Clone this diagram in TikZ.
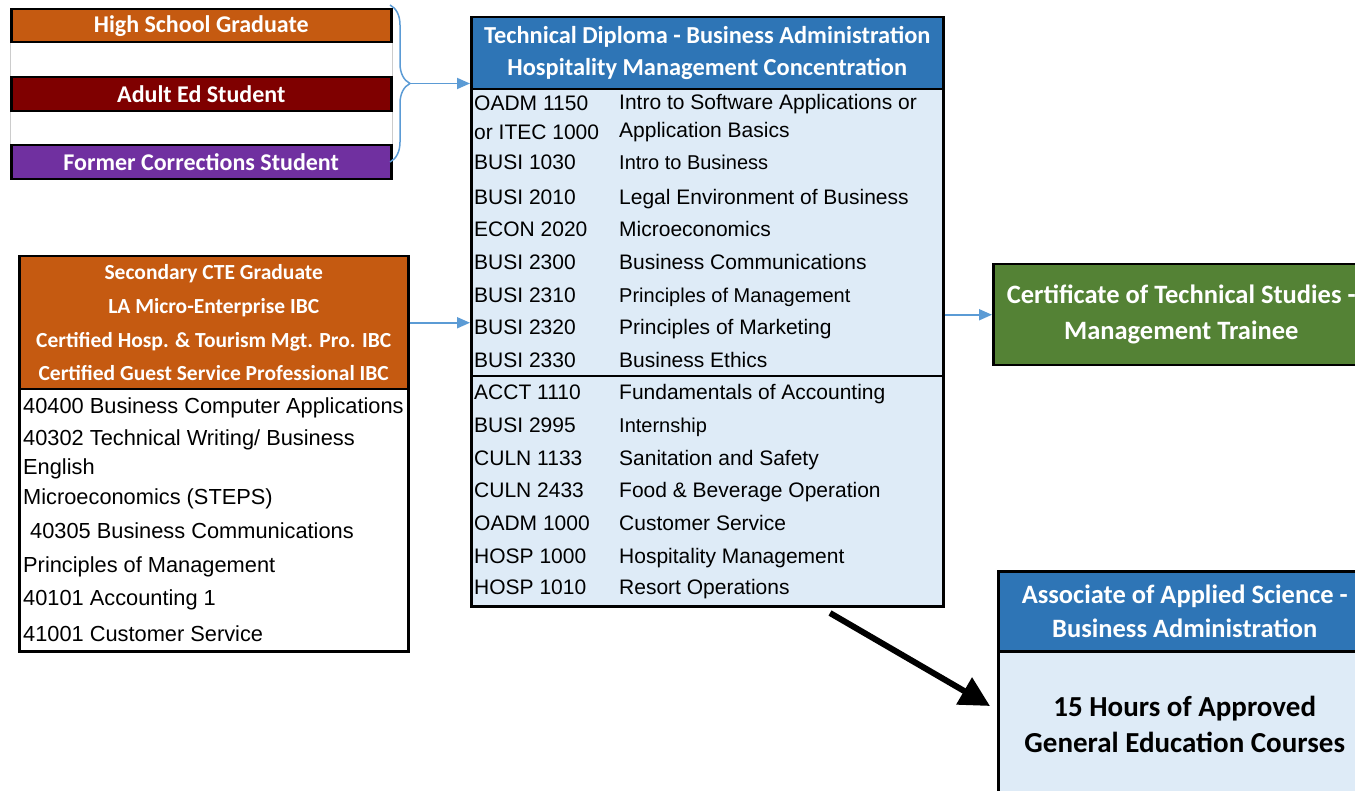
\documentclass[tikz,border=0pt]{standalone}
\usepackage{fontspec}
\setmainfont{Liberation Sans}
\newfontfamily\calibri{Carlito}
\usetikzlibrary{arrows.meta,decorations.pathreplacing}
\definecolor{hsorange}{HTML}{C55A11}
\definecolor{adultred}{HTML}{7F0000}
\definecolor{corrpurple}{HTML}{7030A0}
\definecolor{headblue}{HTML}{2E75B6}
\definecolor{paleblue}{HTML}{DEEBF7}
\definecolor{certgreen}{HTML}{548235}
\definecolor{arrowblue}{HTML}{5B9BD5}
\tikzset{
  entrybox/.style={draw=black,line width=2.5pt,text=white,minimum width=380,minimum height=34,
    inner sep=0,anchor=north west,font=\calibri\bfseries\fontsize{24}{26}\selectfont},
  headbox/.style={draw=black,line width=2.5pt,fill=headblue,text=white,inner sep=0,anchor=north west,
    align=center,font=\calibri\bfseries\fontsize{24.4}{32}\selectfont},
  bodybox/.style={draw=black,line width=2.5pt,fill=paleblue,inner sep=0,anchor=north west},
  course/.style={anchor=west,inner sep=0,text height=15,text depth=0},
  bluearrow/.style={draw=arrowblue,line width=1.8pt,-{Triangle[length=13pt,width=11pt]}},
}
\begin{document}
\begin{tikzpicture}[x=1pt,y=-1pt]
  \useasboundingbox (0,0) rectangle (1355,791);
  \clip (0,0) rectangle (1355,791);
  % entry paths
  \node[entrybox,fill=hsorange,minimum height=33] (hsgrad) at (10,8) {High School Graduate};
  \node[entrybox,fill=adultred] (adulted) at (10,76) {Adult Ed Student};
  \node[entrybox,fill=corrpurple] (corrections) at (10,144) {Former Corrections Student};
  \draw[black!20,line width=1pt] (hsgrad.south west) -- (adulted.north west);
  \draw[black!20,line width=1pt] (hsgrad.south east) -- (adulted.north east);
  \draw[black!20,line width=1pt] (adulted.south west) -- (corrections.north west);
  \draw[black!20,line width=1pt] (adulted.south east) -- (corrections.north east);
  \draw[arrowblue,line width=1.5pt,decorate,decoration={brace,amplitude=20pt}]
    (390,5) -- (390,162) coordinate[pos=0.5,xshift=20pt] (bracetip);
  % technical diploma
  \node[headbox,minimum width=472,minimum height=72] (tdhead) at (470,16)
    {Technical Diploma - Business Administration\\Hospitality Management Concentration};
  \node[bodybox,minimum width=472,minimum height=517] (tdbody) at (470,88) {};
  \draw[line width=1.5pt] (tdbody.west |- 0,376) -- (tdbody.east |- 0,376);
  \node[course,font=\fontsize{21}{24}\selectfont] (c0a) at (474,103) {OADM 1150};
  \node[course,font=\fontsize{21}{24}\selectfont] (c0b) at (474,132) {or ITEC 1000};
  \node[course,font=\fontsize{21}{24}\selectfont] (t0a) at (619,102) {Intro to Software Applications or};
  \node[course,font=\fontsize{21}{24}\selectfont] (t0b) at (619,130) {Application Basics};
  \foreach \yy/\code/\title/\fs [count=\i] in {162/BUSI 1030/Intro to Business/20,
      197/BUSI 2010/Legal Environment of Business/21, 229/ECON 2020/Microeconomics/21,
      262/BUSI 2300/Business Communications/21, 295/BUSI 2310/Principles of Management/20,
      327/BUSI 2320/Principles of Marketing/21, 360/BUSI 2330/Business Ethics/21,
      392/ACCT 1110/Fundamentals of Accounting/21, 425/BUSI 2995/Internship/20,
      458/CULN 1133/Sanitation and Safety/21, 490/CULN 2433/Food \& Beverage Operation/21,
      523/OADM 1000/Customer Service/21, 556/HOSP 1000/Hospitality Management/21,
      587/HOSP 1010/Resort Operations/21}{
    \node[course,font=\fontsize{21}{24}\selectfont] (c\i) at (474,\yy) {\code};
    \node[course,font=\fontsize{\fs}{\fs}\selectfont] (t\i) at (619,\yy) {\title};
  }
  % secondary CTE path
  \node[headbox,fill=hsorange,minimum width=389,minimum height=133,
    font=\calibri\bfseries\fontsize{21.5}{33.7}\selectfont] (ctehead) at (18,255)
    {Secondary CTE Graduate\\LA Micro-Enterprise IBC\\Certified Hosp. \& Tourism Mgt. Pro. IBC\\Certified Guest Service Professional IBC};
  \node[bodybox,fill=white,minimum width=389,minimum height=262] (ctebody) at (18,388) {};
  \foreach \xx/\yy/\txt [count=\i] in {23/406/40400 Business Computer Applications,
      23/438/{40302 Technical Writing/ Business}, 23/467/English, 23/497/Microeconomics (STEPS),
      30/531/40305 Business Communications, 23/565/Principles of Management,
      23/598/40101 Accounting 1, 23/634/41001 Customer Service}{
    \node[course,font=\fontsize{21.8}{24}\selectfont] (s\i) at (\xx,\yy) {\txt};
  }
  % outcomes
  \node[headbox,fill=certgreen,minimum width=376,minimum height=101,
    font=\calibri\bfseries\fontsize{26.5}{36}\selectfont] (cert) at (992,263)
    {Certificate of Technical Studies -\\Management Trainee};
  \node[headbox,minimum width=373,minimum height=80,font=\calibri\bfseries\fontsize{26.5}{34}\selectfont]
    (aashead) at (997,570) {Associate of Applied Science -\\Business Administration};
  \node[bodybox,minimum width=373,minimum height=146,align=center,
    font=\calibri\bfseries\fontsize{29}{36}\selectfont] (aasbody) at (997,650)
    {15 Hours of Approved\\General Education Courses};
  % connectors
  \draw[bluearrow] (bracetip) -- (bracetip -| tdhead.west);
  \draw[bluearrow] (ctehead.east) -- (ctehead.east -| tdbody.west);
  \draw[bluearrow] (cert.west -| tdbody.east) -- (cert.west);
  \coordinate (thickstart) at (830,613);
  \coordinate (thickend) at (990,706);
  \draw[line width=6pt,-{Triangle[length=30pt,width=30pt]}] (thickstart) -- (thickend);
\end{tikzpicture}
\end{document}
